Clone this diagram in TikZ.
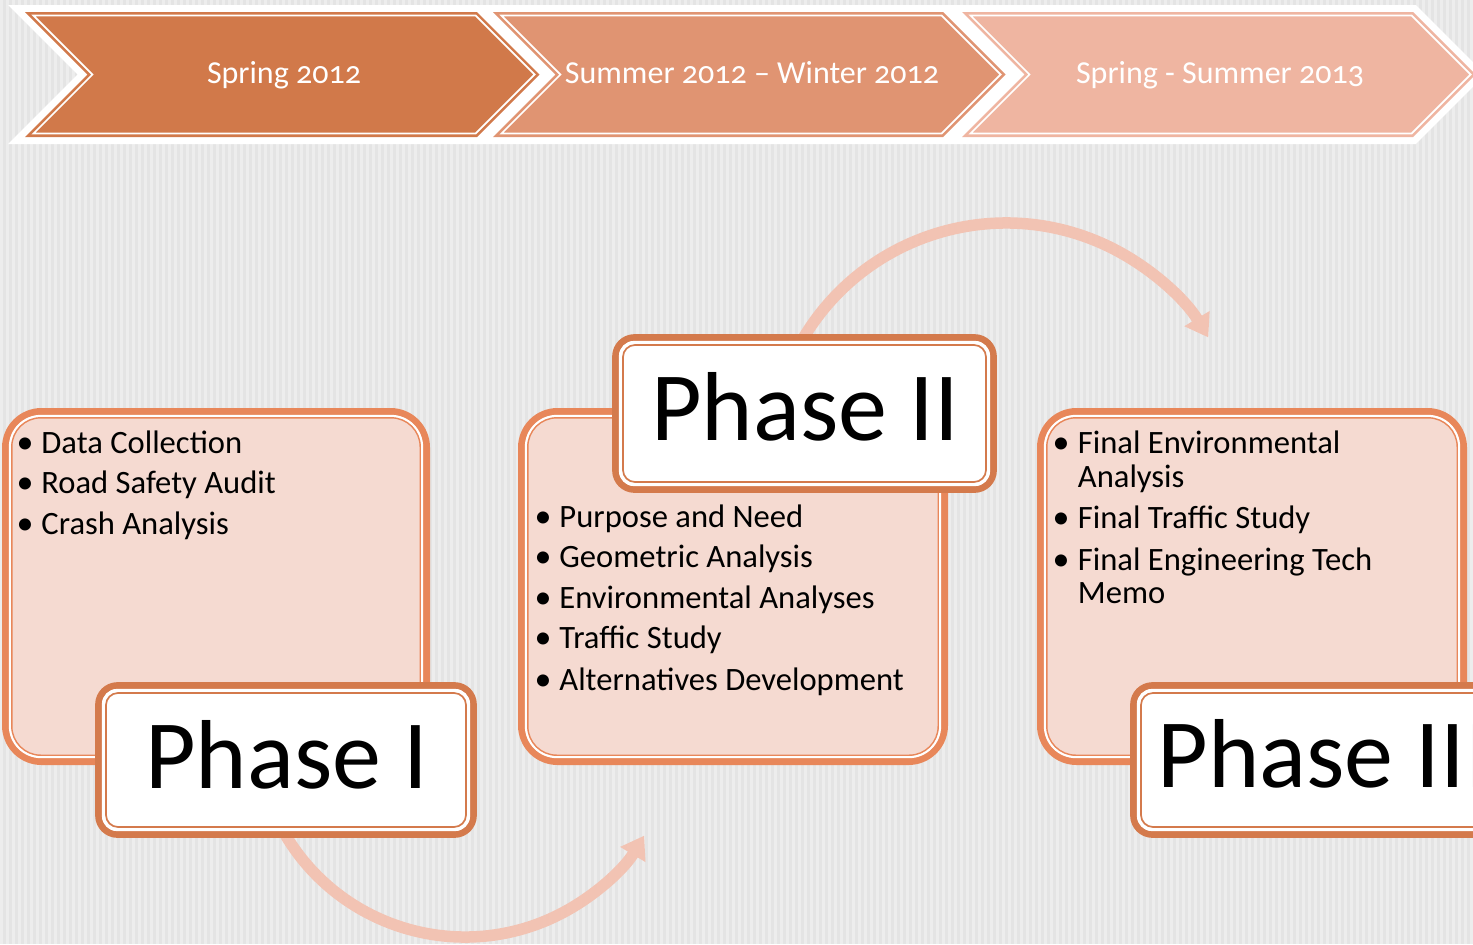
\documentclass[tikz,border=0pt]{standalone}
\usepackage{fontspec}
\setmainfont{Carlito}
\newfontfamily\chevfont[Numbers=OldStyle]{Carlito}
\usetikzlibrary{arrows.meta}
\definecolor{bgcol}{HTML}{E4E4E4}
\definecolor{stripecol}{HTML}{EDEDED}
\definecolor{chevA}{HTML}{D1794A}
\definecolor{chevB}{HTML}{E09472}
\definecolor{chevC}{HTML}{EFB5A1}
\definecolor{boxfill}{HTML}{F5DAD1}
\definecolor{boxline}{HTML}{E8875A}
\definecolor{phaseline}{HTML}{D47A4C}
\definecolor{flowcol}{HTML}{F2C3B3}
% chevron outline: #1 left x, #2 right (top corner) x, #3 inset
\newcommand\chevpath[3]{({#1+#3*1.4142+#3},{12+#3}) -- ({#2-#3*1.4142+#3},{12+#3}) -- ({#2+62.5-#3*1.4142},74.5) -- ({#2-#3*1.4142+#3},{137-#3}) -- ({#1+#3*1.4142+#3},{137-#3}) -- ({#1+62.5+#3*1.4142},74.5) -- cycle}
\begin{document}
\begin{tikzpicture}[x=0.5pt,y=-0.5pt,
  chevtxt/.style={text=white,font=\chevfont\fontsize{16}{19}\selectfont,inner sep=0pt,anchor=base},
  bodytxt/.style={anchor=base west,inner sep=0pt,font=\fontsize{16.3}{20}\selectfont},
  bul/.style={anchor=base,inner sep=0pt,font=\fontsize{17}{20}\selectfont},
  phasetxt/.style={anchor=base,inner sep=0pt,font=\fontsize{49}{58}\selectfont},
  contentbox/.style={shape=rectangle,draw=boxline,line width=3.5pt,fill=boxfill,rounded corners=18pt,
     minimum height=175pt,inner sep=0pt,outer sep=0pt},
  phasebox/.style={shape=rectangle,draw=phaseline,line width=3.35pt,fill=white,rounded corners=9.5pt,
     inner sep=0pt,outer sep=0pt},
  flow/.style={draw=flowcol,line width=5.75pt,-{Triangle[length=11pt,width=14pt]}},
  whiteline/.style={draw=white,line width=1.15pt},
]
\useasboundingbox (0,0) rectangle (1473,944);
\clip (0,0) rectangle (1473,944);
% background
\fill[bgcol] (0,0) rectangle (1473,944);
\foreach \i in {0,6,...,1470} \fill[stripecol] (\i,0) rectangle ++(2.5,944);
% chevrons
\draw[white,line width=7pt,line join=miter,miter limit=20] \chevpath{25}{477}{0};
\draw[white,line width=7pt,line join=miter,miter limit=20] \chevpath{493}{943}{0};
\draw[white,line width=7pt,line join=miter,miter limit=20] \chevpath{962}{1413}{0};
\fill[chevA] \chevpath{25}{477}{0};
\fill[chevB] \chevpath{493}{943}{0};
\fill[chevC] \chevpath{962}{1413}{0};
\draw[white,line width=0.85pt] \chevpath{25}{477}{3.5};
\draw[white,line width=0.85pt] \chevpath{493}{943}{3.5};
\draw[white,line width=0.85pt] \chevpath{962}{1413}{3.5};
\node[chevtxt] (t1) at (284,83) {Spring 2012};
\node[chevtxt] (t2) at (752,83) {Summer 2012 – Winter 2012};
\node[chevtxt] (t3) at (1220,83) {Spring - Summer 2013};
% flow arrows
\coordinate (a1s) at ({465+209*cos(152)},{728+209*sin(152)});
\draw[flow] (a1s) arc[start angle=152,end angle=31,radius=209];
\coordinate (a2s) at ({1006+236*cos(208)},{459+236*sin(208)});
\draw[flow] (a2s) arc[start angle=208,end angle=329,radius=236];
% content boxes
\foreach \nm/\cx/\w in {b1/216/210.5,b2/733/211.5,b3/1252/211.5}{
  \node[contentbox,minimum width=\w pt] (\nm) at (\cx,586.5) {};
  \draw[whiteline,rounded corners=15.5pt] ([shift={(4.5,4.5)}]\nm.north west) rectangle ([shift={(-4.5,-4.5)}]\nm.south east);
  \draw[boxline,line width=0.7pt,rounded corners=14.5pt] ([shift={(6.3,6.3)}]\nm.north west) rectangle ([shift={(-6.3,-6.3)}]\nm.south east);
}
% phase boxes
\foreach \nm/\cx/\cy/\w/\h in {p1/286/760/187.5/74.5,p2/804.5/413.5/189/76,p3/1322.5/760/189/74.5}{
  \node[phasebox,minimum width=\w pt,minimum height=\h pt] (\nm) at (\cx,\cy) {};
  \draw[draw=white,line width=1.65pt,rounded corners=7pt] ([shift={(5,5)}]\nm.north west) rectangle ([shift={(-5,-5)}]\nm.south east);
  \draw[phaseline,line width=0.85pt,rounded corners=6pt] ([shift={(7.5,7.5)}]\nm.north west) rectangle ([shift={(-7.5,-7.5)}]\nm.south east);
}
\node[phasetxt] (l1) at (286.5,788) {Phase I};
\node[phasetxt] (l2) at (805,440) {Phase II};
\node[phasetxt,anchor=base west] (l3) at (1157,787) {Phase III};
% box 1 text
\foreach \y/\txt [count=\k] in {453/Data Collection,493/Road Safety Audit,534/Crash Analysis}{
  \node[bul] (ba\k) at (25,\y) {•};
  \node[bodytxt] (xa\k) at (41,\y) {\txt};
}
% box 2 text
\foreach \y/\txt [count=\k] in {527/Purpose and Need,567/Geometric Analysis,608/Environmental Analyses,648/Traffic Study,690/Alternatives Development}{
  \node[bul] (bb\k) at (543,\y) {•};
  \node[bodytxt] (xb\k) at (559,\y) {\txt};
}
% box 3 text
\node[bul] (bc1) at (1061,453) {•};
\node[bodytxt] (xc1) at (1077.5,453) {Final Environmental};
\node[bodytxt] (xc2) at (1077.5,487) {Analysis};
\node[bul] (bc3) at (1061,528) {•};
\node[bodytxt] (xc3) at (1077.5,528) {Final Traffic Study};
\node[bul] (bc4) at (1061,570) {•};
\node[bodytxt] (xc4) at (1077.5,570) {Final Engineering Tech};
\node[bodytxt] (xc5) at (1077.5,603) {Memo};
\end{tikzpicture}
\end{document}
